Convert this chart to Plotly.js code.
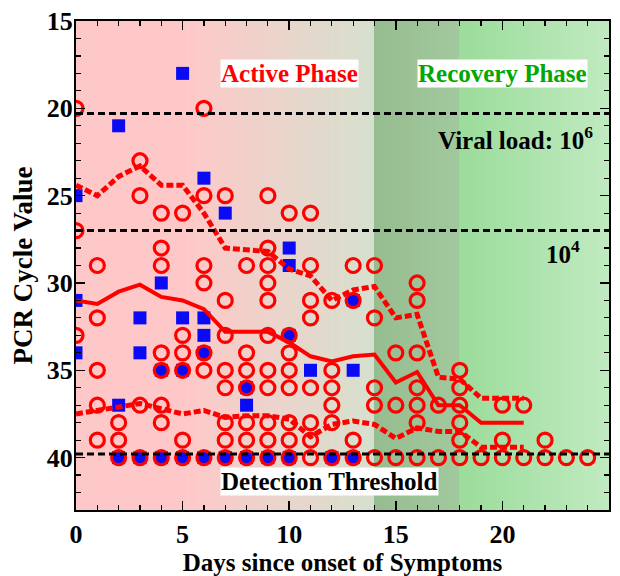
<!DOCTYPE html>
<html>
<head>
<meta charset="utf-8">
<script src="https://cdn.plot.ly/plotly-3.0.1.min.js"></script>
<style>html,body{margin:0;padding:0;background:#fff;}#chart{width:620px;height:576px;}</style>
</head>
<body>
<div id="chart"></div>
<script>
// ---- data ----
const redDays = [0,0,0, 1,1,1,1,1, 2,2,2, 3,3,3,3, 4,4,4,4,4,4,4,4, 5,5,5,5,5,5, 6,6,6,6,6,6,6,
  7,7,7,7,7,7,7,7, 8,8,8,8,8,8,8, 9,9,9,9,9,9,9,9,9,9,9, 10,10,10,10,10,10,10,10,
  11,11,11,11,11,11,11,11, 12,12,12,12,12,12, 13,13,13,13, 14,14,14,14,14, 15,15,15,
  16,16,16,16,16,16,16, 17,17, 18,18,18,18,18,18, 19, 20,20,20, 21,21, 22,22, 23, 24];
const redCt = [20,27,33, 29,32,35,37,39, 38,39,40, 23,25,37,40, 26,28,29,34,35,37,38,40, 26,33,34,35,39,40, 20,25,29,30,34,35,40,
  25,31,33,35,36,38,39,40, 29,34,35,36,38,39,40, 25,28,29,30,31,33,35,36,38,39,40, 26,33,34,35,36,38,39,40,
  26,29,31,32,36,38,39,40, 31,35,36,37,38,40, 29,31,39,40, 29,32,36,37,40, 34,37,40,
  30,31,34,36,37,38,40, 37,40, 35,36,37,38,39,40, 40, 37,39,40, 37,40, 39,40, 40, 40];
const blueDays = [0,0,0, 2,2,2, 3,3,3, 4,4,4, 5,5,5,5, 6,6,6,6,6, 7,7, 8,8,8, 9, 10,10,10,10, 11, 12, 13,13,13];
const blueCt   = [25,31,34, 21,37,40, 32,34,40, 30,35,40, 18,32,35,40, 24,32,33,34,40, 26,40, 36,37,40, 40, 28,29,33,40, 35, 40, 31,35,40];
const lineDays = [0,1,2,3,4,5,6,7,8,9,10,11,12,13,14,15,16,17,18,19,20,21];
const medianCt = [31.0,31.2,30.5,30.1,30.8,31.0,31.5,32.8,32.8,32.8,33.4,34.2,34.5,34.2,34.1,35.7,35.1,37.0,37.0,38.0,38.0,38.0];
const upperCt  = [24.4,25.0,23.9,23.3,24.4,24.4,26.0,28.0,28.1,28.2,29.2,29.6,31.0,30.4,30.2,32.0,31.8,35.4,35.5,36.6,36.6,36.6];
const lowerCt  = [37.5,37.3,37.1,36.9,37.2,37.5,37.3,37.7,37.6,37.6,37.8,38.8,38.1,37.9,38.1,38.9,38.3,38.5,38.5,39.4,39.4,39.4];
const thresholdCt = [20.3, 27.0, 39.8];
const xTicks = [0,5,10,15,20,25];
const yTicks = [15,20,25,30,35,40];

// ---- background gradient (decorative) ----
const bgX = [];
for (let i = 0; i <= 500; i++) bgX.push(i * 0.05);
const serif = 'Liberation Serif, Times New Roman, serif';

const traces = [
  {type:'heatmap', x: bgX, y:[14,44], z:[bgX, bgX], zmin:0, zmax:25, zsmooth:false, showscale:false, hoverinfo:'skip',
   colorscale:[[0,'rgb(255,200,200)'],[0.2,'rgb(255,200,200)'],[0.5598,'rgb(214,224,206)'],[0.56,'rgb(150,189,144)'],
               [0.7198,'rgb(162,200,157)'],[0.72,'rgb(155,220,155)'],[1,'rgb(192,234,192)']]},
  {type:'scatter', mode:'markers', x: blueDays, y: blueCt, marker:{symbol:'square', size:13, color:'#0a0af5'}, hoverinfo:'skip'},
  {type:'scatter', mode:'markers', x: redDays, y: redCt, marker:{symbol:'circle-open', size:14, color:'#ff0000', line:{width:3.2, color:'#ff0000'}}, hoverinfo:'skip'},
  {type:'scatter', mode:'lines', x: lineDays, y: upperCt, line:{color:'#ff0000', width:5, dash:'7px,3px'}, hoverinfo:'skip'},
  {type:'scatter', mode:'lines', x: lineDays, y: lowerCt, line:{color:'#ff0000', width:5, dash:'7px,3px'}, hoverinfo:'skip'},
  {type:'scatter', mode:'lines', x: lineDays, y: medianCt, line:{color:'#ff0000', width:4}, hoverinfo:'skip'}
];

const shapes = thresholdCt.map(v => ({type:'line', xref:'paper', x0:0, x1:1, yref:'y', y0:v, y1:v,
  line:{color:'black', width:3, dash:'7px,4px'}}));

const annFont = (c) => ({family: serif, size: 25, color: c, weight: 'bold'});
const annotations = [
  {x:10, y:18, text:'Active Phase', showarrow:false, font:annFont('#ff0000'), bgcolor:'white', borderpad:0},
  {x:20, y:18, text:'Recovery Phase', showarrow:false, font:annFont('#00a800'), bgcolor:'white', borderpad:0},
  {x:20.6, y:21.7, text:'Viral load: 10<sup>6</sup>', showarrow:false, font:annFont('black')},
  {x:22.85, y:28.2, text:'10<sup>4</sup>', showarrow:false, font:annFont('black')},
  {x:11.9, y:41.35, text:'Detection Threshold', showarrow:false, font:annFont('black'), bgcolor:'white', borderpad:0}
];

const axisCommon = {showgrid:false, zeroline:false, showline:true, linecolor:'black', linewidth:2, mirror:'ticks',
  ticks:'inside', ticklen:9, tickwidth:1.5, tickcolor:'black',
  tickfont:{family: serif, size:26, color:'black', weight:'bold'},
  minor:{ticks:'inside', ticklen:5, tickwidth:1.2, tickcolor:'black', dtick:1, tick0:0, showgrid:false}};

const layout = {
  width:620, height:576, margin:{l:76, r:11, t:21, b:66},
  paper_bgcolor:'white', plot_bgcolor:'white', showlegend:false,
  xaxis: Object.assign({}, axisCommon, {range:[0,25], tickmode:'array', tickvals:xTicks, ticktext:xTicks.map(String),
    title:{text:'Days since onset of Symptoms', font:{family: serif, size:25, color:'black', weight:'bold'}, standoff:10}}),
  yaxis: Object.assign({}, axisCommon, {range:[43,15], tickmode:'array', tickvals:yTicks, ticktext:yTicks.map(String),
    ticklabelstandoff:-4,
    title:{text:'PCR Cycle Value', font:{family: serif, size:27, color:'black', weight:'bold'}, standoff:6}}),
  shapes: shapes, annotations: annotations
};

Plotly.newPlot('chart', traces, layout, {staticPlot:true, displayModeBar:false});
</script>
</body>
</html>
